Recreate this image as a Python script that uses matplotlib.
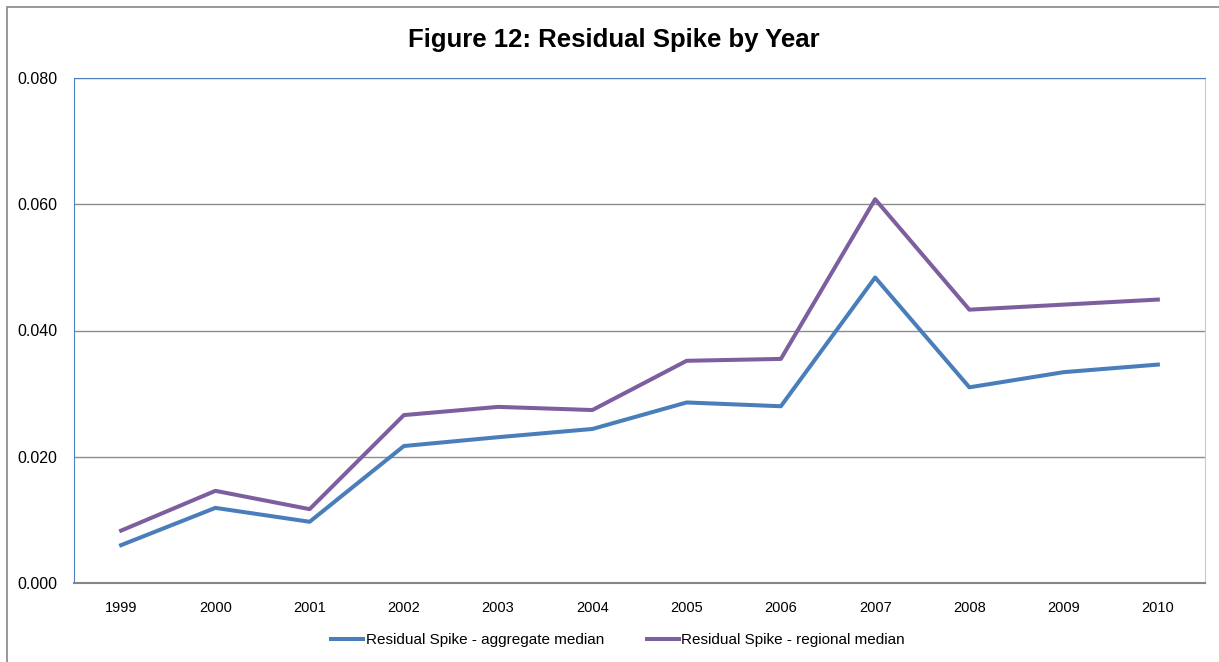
import matplotlib
matplotlib.use('Agg')
import matplotlib.pyplot as plt
from matplotlib.patches import Rectangle

plt.rcParams['font.family'] = ['Liberation Sans', 'DejaVu Sans']

# data
years = ['1999', '2000', '2001', '2002', '2003', '2004',
         '2005', '2006', '2007', '2008', '2009', '2010']
aggregate_median = [0.0060, 0.0119, 0.0097, 0.0217, 0.0231, 0.0244,
                    0.0286, 0.0280, 0.0484, 0.0310, 0.0334, 0.0346]
regional_median = [0.0083, 0.0146, 0.0117, 0.0266, 0.0279, 0.0274,
                   0.0352, 0.0355, 0.0608, 0.0433, 0.0441, 0.0449]
y_ticks = [0.000, 0.020, 0.040, 0.060, 0.080]

fig = plt.figure(figsize=(12.19, 6.62), dpi=100)
W, H = 1219, 662

# outer chart border (runs off the right and bottom edges)
fig.patches.append(Rectangle((7 / W, -0.1), 1.1, 1.1 - 7 / H, transform=fig.transFigure,
                             fill=False, edgecolor='#868686', linewidth=1.2))

# plot area
ax = fig.add_axes([74 / W, 1 - 583 / H, (1205 - 74) / W, (583 - 78) / H])
x = range(len(years))
ax.plot(x, aggregate_median, color='#4A7EBB', linewidth=2.9,
        label='Residual Spike - aggregate median', solid_joinstyle='round')
ax.plot(x, regional_median, color='#7D5FA0', linewidth=2.9,
        label='Residual Spike - regional median', solid_joinstyle='round')

ax.set_xlim(-0.5, len(years) - 0.5)
ax.set_ylim(0, 0.08)
ax.set_xticks(list(x))
ax.set_xticklabels(years, fontsize=10.5)
ax.set_yticks(y_ticks)
ax.set_yticklabels(['%.3f' % v for v in y_ticks], fontsize=11.5)
ax.tick_params(axis='both', length=0, colors='black')
ax.tick_params(axis='y', pad=12)
ax.tick_params(axis='x', pad=13)

ax.grid(axis='y', color='#8C8C8C', linewidth=1)
ax.set_axisbelow(True)
ax.spines['top'].set_color('#4F81BD')
ax.spines['left'].set_color('#4F81BD')
ax.spines['right'].set_color('#B9CDE5')
ax.spines['bottom'].set_color('#868686')
ax.spines['bottom'].set_linewidth(1.5)

fig.text(614 / W, 1 - 40 / H, 'Figure 12: Residual Spike by Year',
         ha='center', va='center', fontsize=18.5, fontweight='bold')

fig.legend(loc='center', bbox_to_anchor=(618 / W, 1 - 640 / H), ncol=2,
           frameon=False, fontsize=11, handlelength=2.1, handletextpad=0.15,
           columnspacing=2.8)

fig.savefig('out.png', dpi=100)
